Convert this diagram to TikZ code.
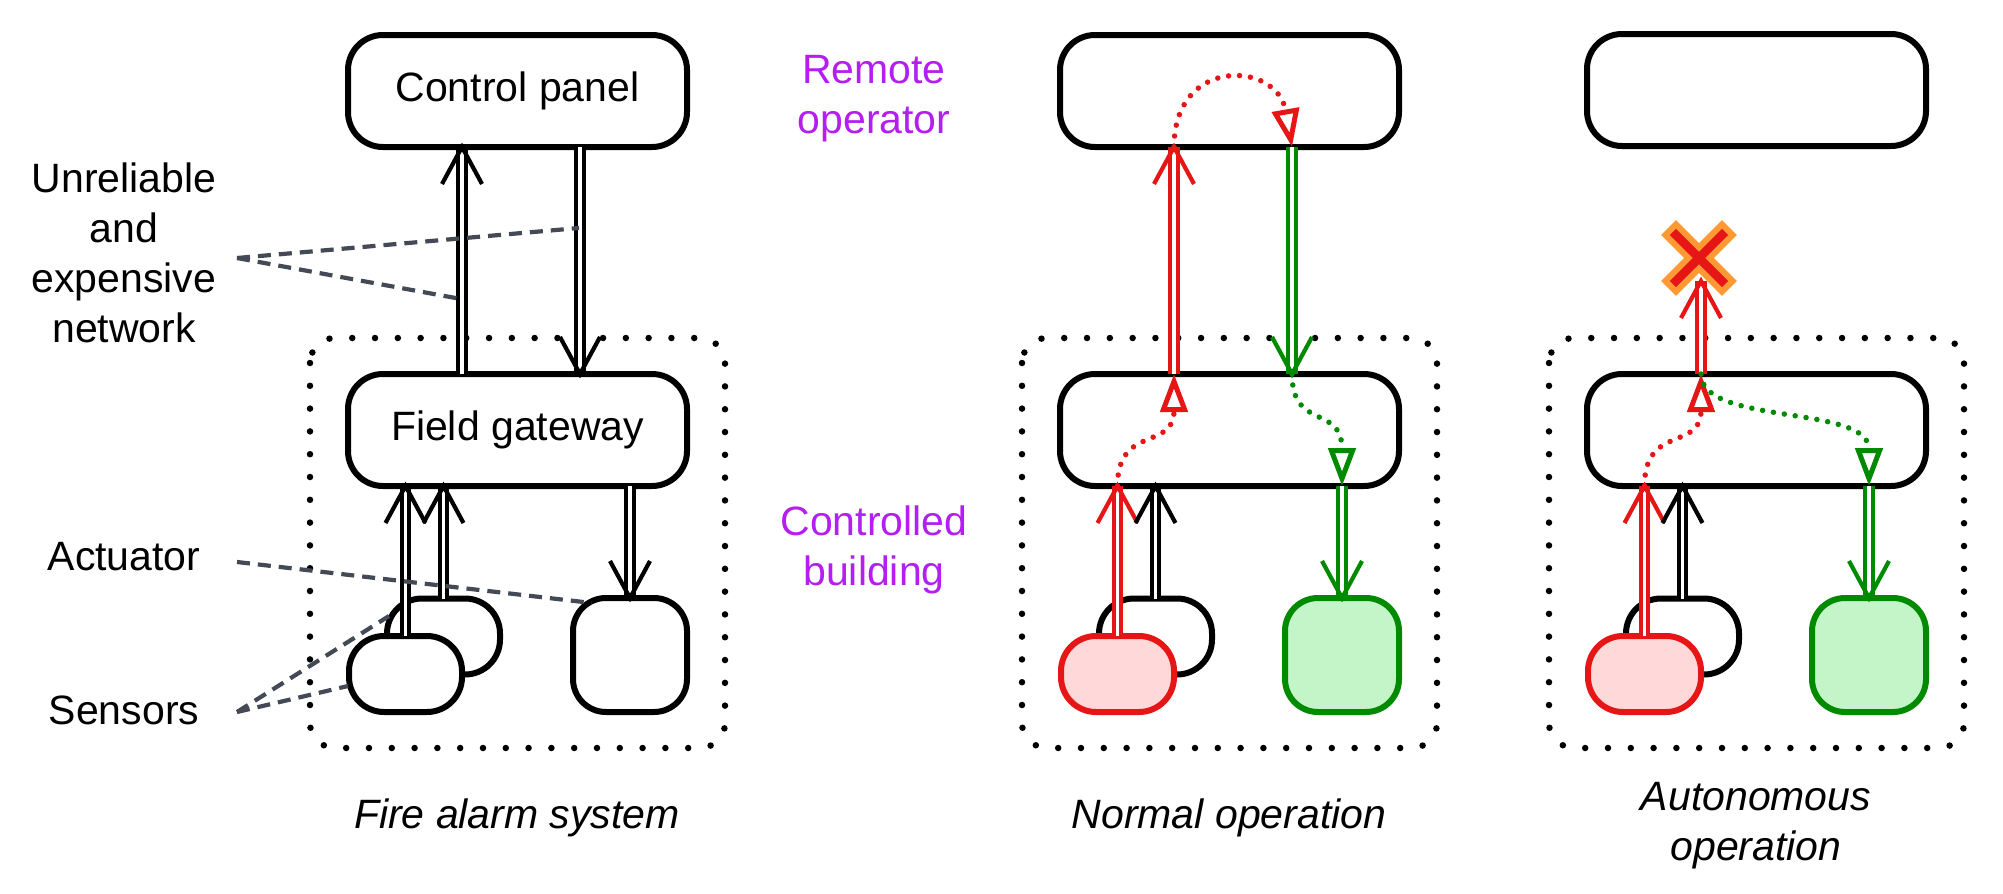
\documentclass[tikz,border=0pt]{standalone}
\usepackage{fontspec}
\setmainfont{Liberation Sans}
\usetikzlibrary{arrows.meta,calc}
\definecolor{cred}{RGB}{230,22,22}
\definecolor{cpink}{RGB}{255,217,217}
\definecolor{cgreen}{RGB}{0,138,0}
\definecolor{clgreen}{RGB}{195,245,200}
\definecolor{corange}{RGB}{255,153,51}
\definecolor{cgrey}{RGB}{67,74,85}
\definecolor{cpurple}{RGB}{180,30,240}
\newcommand\uparr[3]{\draw[shaft,#1] (#2) -- (#3); \draw[vhead,#1] (#3) ++(-20,37) -- (#3) -- ++(20,37);}
\newcommand\downarr[3]{\draw[shaft,#1] (#2) -- (#3); \draw[vhead,#1] (#3) ++(-20,-37) -- (#3) -- ++(20,-37);}
\tikzset{
  bigbox/.style={draw, line width=6pt, rounded corners=35pt, minimum width=339pt, minimum height=112pt, outer sep=0pt, inner sep=0pt, font=\fontsize{41pt}{50pt}\selectfont},
  sensor/.style={draw, fill=white, line width=6pt, rounded corners=35pt, minimum width=113pt, minimum height=76pt, outer sep=0pt, inner sep=0pt},
  actbox/.style={draw, fill=white, line width=6pt, rounded corners=33pt, minimum width=114pt, minimum height=114pt, outer sep=0pt, inner sep=0pt},
  bld/.style={line width=6.5pt, dash pattern=on 0pt off 22.8pt, line cap=round, rounded corners=25pt},
  leader/.style={cgrey, line width=4.2pt, dash pattern=on 13pt off 8pt},
  shaft/.style={line width=4.2pt, double=white, double distance=3.2pt},
  vhead/.style={line width=4.2pt, line join=miter},
  dots/.style={line width=5.5pt, dash pattern=on 0pt off 11pt, line cap=round, -{Triangle[fill=white, length=38pt, width=27pt, line width=5pt]}},
  lbl/.style={align=center, inner sep=0pt, font=\fontsize{41pt}{50pt}\selectfont},
  ttl/.style={align=center, inner sep=0pt, font=\fontsize{41pt}{50pt}\selectfont\itshape},
  plbl/.style={lbl, text=cpurple},
  redsens/.style={sensor, draw=cred, fill=cpink},
  greenact/.style={actbox, draw=cgreen, fill=clgreen}
}
\begin{document}
\begin{tikzpicture}[x=1pt,y=-1pt]
\useasboundingbox (0,0) rectangle (2003,894);
% ---------- Panel 1 ----------
\draw[bld] (310,338) rectangle (725,748);
\node[bigbox] (cp1) at (517.5,91) {Control panel};
\node[bigbox] (gw1) at (517.5,430) {Field gateway};
\node[sensor] (sb1) at (443.5,636.5) {};
\node[sensor] (sf1) at (405.5,674) {};
\node[actbox] (ac1) at (630,655) {};
\uparr{}{[xshift=-55.5pt]gw1.north}{[xshift=-55.5pt]cp1.south}
\downarr{}{[xshift=62.5pt]cp1.south}{[xshift=62.5pt]gw1.north}
\uparr{}{sf1.north}{gw1.south -| sf1.north}
\uparr{}{sb1.north}{gw1.south -| sb1.north}
\downarr{}{gw1.south -| ac1.north}{ac1.north}
% labels
\node[lbl] (net) at (124,253) {Unreliable\\and\\expensive\\network};
\node[lbl] (act) at (124,557) {Actuator};
\node[lbl] (sen) at (124,710) {Sensors};
\node[ttl] (t1) at (517,818) {Fire alarm system};
\node[plbl] (rop) at (874,99) {Remote\\operator};
\node[plbl] (cbl) at (874,550) {Controlled\\building};
% leaders
\coordinate (n0) at (237,258);
\coordinate (n1) at (579,228);
\coordinate (n2) at (461,299);
\coordinate (a0) at (237,562);
\coordinate (a1) at (592,603);
\coordinate (s0) at (237,712);
\coordinate (s1) at (389,616);
\coordinate (s2) at (348,686);
\draw[leader] (n0) -- (n1);
\draw[leader] (n0) -- (n2);
\draw[leader] (a0) -- (a1);
\draw[leader] (s0) -- (s1);
\draw[leader] (s0) -- (s2);
% ---------- Panel 2 ----------
\draw[bld] (1022,338) rectangle (1437,748);
\node[bigbox] (cp2) at (1229.5,91) {};
\node[bigbox] (gw2) at (1229.5,430) {};
\node[sensor] (sb2) at (1155.5,636.5) {};
\node[redsens] (sf2) at (1117.5,674) {};
\node[greenact] (ac2) at (1342,655) {};
\uparr{cred}{[xshift=-55.5pt]gw2.north}{[xshift=-55.5pt]cp2.south}
\downarr{cgreen}{[xshift=62.5pt]cp2.south}{[xshift=62.5pt]gw2.north}
\uparr{cred}{sf2.north}{gw2.south -| sf2.north}
\uparr{}{sb2.north}{gw2.south -| sb2.north}
\downarr{cgreen}{gw2.south -| ac2.north}{ac2.north}
\draw[dots,cred] (gw2.south -| sf2.north) .. controls +(0,-62) and +(0,77) .. ([xshift=-55.5pt]gw2.north);
\draw[dots,cred] ([xshift=-55.5pt]cp2.south) .. controls +(0,-91) and +(-15,-86) .. ([xshift=62.5pt]cp2.south);
\draw[dots,cgreen] ([xshift=62.5pt]gw2.north) .. controls +(0,57) and +(0,-82) .. (gw2.south -| ac2.north);
\node[ttl] (t2) at (1229,818) {Normal operation};
% ---------- Panel 3 ----------
\draw[bld] (1549,338) rectangle (1964,748);
\node[bigbox] (cp3) at (1756.5,90) {};
\node[bigbox] (gw3) at (1756.5,430) {};
\node[sensor] (sb3) at (1682.5,636.5) {};
\node[redsens] (sf3) at (1644.5,674) {};
\node[greenact] (ac3) at (1869,655) {};
\coordinate (xtip) at (1701,281);
\uparr{cred}{[xshift=-55.5pt]gw3.north}{xtip}
\uparr{cred}{sf3.north}{gw3.south -| sf3.north}
\uparr{}{sb3.north}{gw3.south -| sb3.north}
\downarr{cgreen}{gw3.south -| ac3.north}{ac3.north}
\draw[dots,cred] (gw3.south -| sf3.north) .. controls +(0,-62) and +(0,77) .. ([xshift=-55.5pt]gw3.north);
\draw[dots,cgreen] ([xshift=-55.5pt]gw3.north) .. controls +(0,52) and +(0,-82) .. (gw3.south -| ac3.north);
\coordinate (xm) at (1699,258);
\begin{scope}[shift={(xm)}, rotate=45]
\draw[corange, fill=cred, line width=6pt, line join=miter] (7.5,40) -- (7.5,7.5) -- (40,7.5) -- (40,-7.5) -- (7.5,-7.5) -- (7.5,-40) -- (-7.5,-40) -- (-7.5,-7.5) -- (-40,-7.5) -- (-40,7.5) -- (-7.5,7.5) -- (-7.5,40) -- cycle;
\end{scope}
\node[ttl] (t3) at (1756,826) {Autonomous\\operation};
\end{tikzpicture}
\end{document}
